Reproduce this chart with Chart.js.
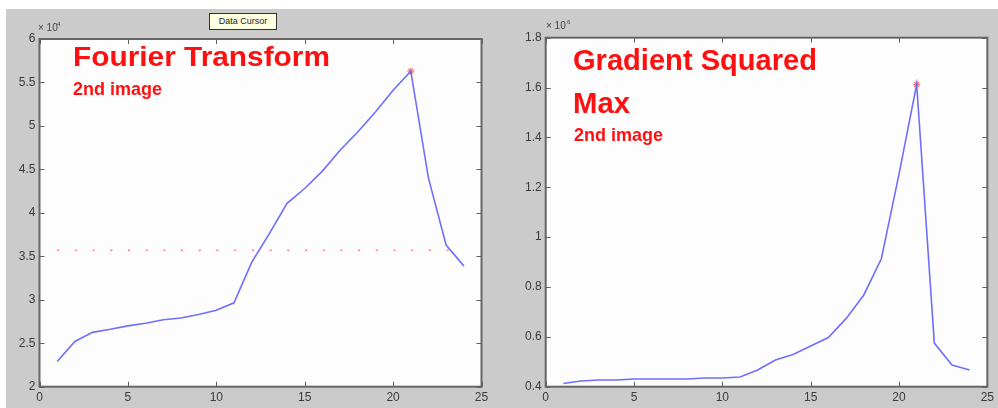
<!DOCTYPE html>
<html>
<head>
<meta charset="utf-8">
<script src="https://cdn.jsdelivr.net/npm/chart.js@4/dist/chart.umd.min.js"></script>
<style>
html,body{margin:0;padding:0;width:998px;height:408px;overflow:hidden;background:#ffffff;}
#panel{position:absolute;left:6px;top:9px;width:992px;height:399px;background:#cbcbcb;}
canvas.cv{position:absolute;}
.ann{position:absolute;color:#ff1010;font-family:"Liberation Sans",Arial,sans-serif;font-weight:bold;white-space:nowrap;transform-origin:0 0;line-height:1;}
.exp{position:absolute;color:#444;font-family:"Liberation Sans",Arial,sans-serif;white-space:nowrap;line-height:1;}
#cursor{position:absolute;left:209px;top:13px;width:66px;height:15px;background:#ffffe1;border:1px solid #333;font-family:"Liberation Sans",Arial,sans-serif;font-size:9px;color:#222;text-align:center;line-height:15px;}
</style>
</head>
<body>
<div id="panel"></div>
<canvas id="c1" class="cv" width="494" height="399" style="left:6px;top:9px;width:494px;height:399px"></canvas>
<canvas id="c2" class="cv" width="498" height="399" style="left:500px;top:9px;width:498px;height:399px"></canvas>

<div id="cursor">Data Cursor</div>

<div class="exp" style="left:38px;top:23px;font-size:10px">× 10</div>
<div class="exp" style="left:57px;top:21px;font-size:6px">4</div>
<div class="exp" style="left:546px;top:21px;font-size:10px">× 10</div>
<div class="exp" style="left:567px;top:19px;font-size:6px">6</div>

<div class="ann" data-w="257" style="left:73px;top:43px;font-size:28px">Fourier Transform</div>
<div class="ann" data-w="89" style="left:73px;top:80.3px;font-size:18.5px">2nd image</div>
<div class="ann" data-w="244" style="left:573px;top:46.2px;font-size:29px">Gradient Squared</div>
<div class="ann" data-w="57" style="left:573px;top:88.8px;font-size:29px">Max</div>
<div class="ann" data-w="89" style="left:574px;top:126px;font-size:18.5px">2nd image</div>

<script>
// ---- data ----
const frames = [1,2,3,4,5,6,7,8,9,10,11,12,13,14,15,16,17,18,19,20,21,22,23,24];
// Fourier Transform (x 10^4)
const fourierValues = [2.29,2.52,2.625,2.66,2.70,2.73,2.77,2.79,2.83,2.88,2.965,3.43,3.76,4.11,4.28,4.48,4.72,4.93,5.16,5.41,5.63,4.40,3.63,3.39];
const fourierThreshold = 3.57;
// Gradient Squared Max (x 10^6)
const gradientValues = [0.413,0.423,0.427,0.427,0.431,0.431,0.431,0.431,0.435,0.435,0.439,0.467,0.507,0.529,0.563,0.597,0.673,0.767,0.913,1.253,1.613,0.575,0.487,0.467];
const xTicks = [0,5,10,15,20,25];
const fourierTicks = [2,2.5,3,3.5,4,4.5,5,5.5,6];
const gradientTicks = [0.4,0.6,0.8,1,1.2,1.4,1.6,1.8];

// ---- helpers ----
function pts(xs, ys){ return xs.map((x,i)=>({x:x,y:ys[i]})); }
function peak(xs, ys){ let k=0; ys.forEach((v,i)=>{ if(v>ys[k]) k=i; }); return [{x:xs[k],y:ys[k]}]; }

const framePlugin = {
  id:'matlabFrame',
  beforeDraw(c){
    const a=c.chartArea, ctx=c.ctx;
    ctx.save(); ctx.fillStyle='#fdfdfd';
    ctx.fillRect(a.left,a.top,a.right-a.left,a.bottom-a.top); ctx.restore();
  },
  afterDraw(c){
    const a=c.chartArea, ctx=c.ctx, xs=c.scales.x, ys=c.scales.y;
    ctx.save();
    ctx.strokeStyle='#606060'; ctx.lineWidth=1;
    ctx.beginPath();
    xs.ticks.forEach(t=>{ const p=Math.round(xs.getPixelForValue(t.value))+0.5;
      ctx.moveTo(p,a.bottom); ctx.lineTo(p,a.bottom-5); ctx.moveTo(p,a.top); ctx.lineTo(p,a.top+5); });
    ys.ticks.forEach(t=>{ const p=Math.round(ys.getPixelForValue(t.value))+0.5;
      ctx.moveTo(a.left,p); ctx.lineTo(a.left+5,p); ctx.moveTo(a.right,p); ctx.lineTo(a.right-5,p); });
    ctx.stroke();
    ctx.lineWidth=2; ctx.strokeStyle='#666';
    ctx.strokeRect(a.left,a.top,a.right-a.left,a.bottom-a.top);
    ctx.restore();
  }
};

function makeChart(id, values, yTicks, yWidth, pad, extra){
  const tickFont={family:'"Liberation Sans", Arial, sans-serif', size:12};
  const datasets=[{
    data:pts(frames,values), borderColor:'rgba(95,95,255,0.9)', borderWidth:1.6,
    pointRadius:0, tension:0, fill:false
  }].concat(extra);
  return new Chart(document.getElementById(id),{
    type:'line',
    data:{datasets:datasets},
    options:{
      responsive:false, animation:false, devicePixelRatio:1,
      layout:{padding:pad},
      plugins:{legend:{display:false}, tooltip:{enabled:false}},
      scales:{
        x:{type:'linear', min:xTicks[0], max:xTicks[xTicks.length-1],
           afterBuildTicks(s){ s.ticks=xTicks.map(v=>({value:v})); },
           ticks:{color:'#3a3a3a', font:tickFont, padding:4, maxRotation:0, callback:v=>String(v)},
           grid:{display:false, drawTicks:false}, border:{display:false},
           afterFit(s){ s.height=21.3; }},
        y:{type:'linear', min:yTicks[0], max:yTicks[yTicks.length-1],
           afterBuildTicks(s){ s.ticks=yTicks.map(v=>({value:v})); },
           ticks:{color:'#3a3a3a', font:tickFont, padding:4, callback:v=>String(Math.round(v*10)/10)},
           grid:{display:false, drawTicks:false}, border:{display:false},
           afterFit(s){ s.width=yWidth; }}
      }
    },
    plugins:[framePlugin]
  });
}

makeChart('c1', fourierValues, fourierTicks, 33.5, {top:30,right:18.5,left:0,bottom:0}, [
  {data:[{x:frames[0],y:fourierThreshold},{x:frames[frames.length-1],y:fourierThreshold}],
   borderColor:'rgba(255,90,90,0.8)', borderWidth:1.5, borderDash:[2,15.7], pointRadius:0, fill:false},
  {data:peak(frames,fourierValues), showLine:false, pointStyle:'star', pointRadius:3.5,
   borderColor:'rgba(255,70,70,0.75)', backgroundColor:'rgba(255,70,70,0.75)', pointBorderWidth:1.2}
]);
makeChart('c2', gradientValues, gradientTicks, 45.7, {top:28.7,right:8.7,left:0,bottom:0}, [
  {data:peak(frames,gradientValues), showLine:false, pointStyle:'star', pointRadius:3.5,
   borderColor:'rgba(255,70,70,0.75)', backgroundColor:'rgba(255,70,70,0.75)', pointBorderWidth:1.2}
]);

// fit annotation widths to the reference
document.querySelectorAll('.ann').forEach(el=>{
  const w=el.getBoundingClientRect().width, target=+el.dataset.w;
  el.style.transform='scaleX('+(target/w)+')';
});
</script>
</body>
</html>
